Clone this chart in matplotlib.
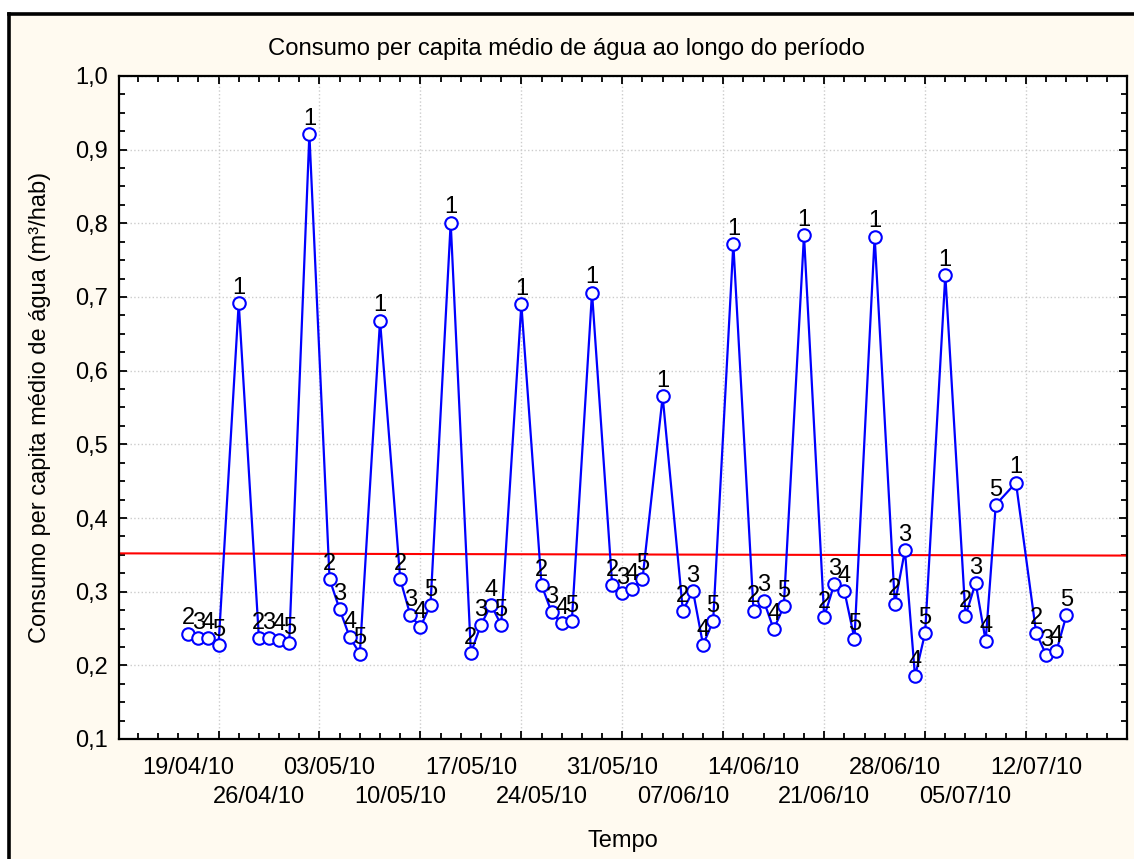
import pandas as pd
import matplotlib.pyplot as plt
import matplotlib.dates as mdates
import matplotlib.transforms as mtransforms
from matplotlib.patches import Rectangle
from matplotlib.lines import Line2D

plt.rcParams['font.family'] = ['Liberation Sans', 'DejaVu Sans']

# Data (day code 1..5 is written above each point)
dates = ['19/04/2010', '20/04/2010', '21/04/2010', '22/04/2010', '24/04/2010',
         '26/04/2010', '27/04/2010', '28/04/2010', '29/04/2010', '01/05/2010',
         '03/05/2010', '04/05/2010', '05/05/2010', '06/05/2010', '08/05/2010',
         '10/05/2010', '11/05/2010', '12/05/2010', '13/05/2010', '15/05/2010',
         '17/05/2010', '18/05/2010', '19/05/2010', '20/05/2010', '22/05/2010',
         '24/05/2010', '25/05/2010', '26/05/2010', '27/05/2010', '29/05/2010',
         '31/05/2010', '01/06/2010', '02/06/2010', '03/06/2010', '05/06/2010',
         '07/06/2010', '08/06/2010', '09/06/2010', '10/06/2010', '12/06/2010',
         '14/06/2010', '15/06/2010', '16/06/2010', '17/06/2010', '19/06/2010',
         '21/06/2010', '22/06/2010', '23/06/2010', '24/06/2010', '26/06/2010',
         '28/06/2010', '29/06/2010', '30/06/2010', '01/07/2010', '03/07/2010',
         '05/07/2010', '06/07/2010', '07/07/2010', '08/07/2010', '10/07/2010',
         '12/07/2010', '13/07/2010', '14/07/2010', '15/07/2010']
consumo = [0.243, 0.237, 0.237, 0.227, 0.692,
           0.237, 0.237, 0.235, 0.230, 0.921,
           0.317, 0.276, 0.238, 0.216, 0.668,
           0.317, 0.268, 0.252, 0.282, 0.801,
           0.217, 0.255, 0.282, 0.255, 0.690,
           0.309, 0.272, 0.257, 0.260, 0.706,
           0.309, 0.298, 0.304, 0.317, 0.565,
           0.274, 0.301, 0.228, 0.260, 0.772,
           0.274, 0.288, 0.249, 0.280, 0.784,
           0.266, 0.310, 0.301, 0.236, 0.782,
           0.283, 0.356, 0.185, 0.244, 0.730,
           0.267, 0.312, 0.233, 0.418, 0.448,
           0.244, 0.214, 0.219, 0.268]
dia = ['2', '3', '4', '5', '1'] * 12 + ['2', '3', '4', '5']

trend_start = 0.352
trend_end = 0.349

label_dates_top = ['19/04/2010', '03/05/2010', '17/05/2010', '31/05/2010',
                   '14/06/2010', '28/06/2010', '12/07/2010']
label_dates_bottom = ['26/04/2010', '10/05/2010', '24/05/2010', '07/06/2010',
                      '21/06/2010', '05/07/2010']

y_ticks = [0.1, 0.2, 0.3, 0.4, 0.5, 0.6, 0.7, 0.8, 0.9, 1.0]
y_tick_labels = ['0,1', '0,2', '0,3', '0,4', '0,5', '0,6', '0,7', '0,8', '0,9', '1,0']

x = mdates.date2num(pd.to_datetime(dates, format='%d/%m/%Y'))

fig = plt.figure(figsize=(11.34, 8.59), dpi=100)
fig.patch.set_facecolor('white')

# cream panel with thick black border on top and left
W, H = 1134.0, 859.0
fig.patches.append(Rectangle((9 / W, 0), 1 - 9 / W, 1 - 14 / H, transform=fig.transFigure,
                             facecolor='#fffaf0', edgecolor='none', zorder=-10))
fig.lines.append(Line2D([9 / W, 1], [1 - 14 / H, 1 - 14 / H], transform=fig.transFigure,
                        color='black', lw=2.6, zorder=-5))
fig.lines.append(Line2D([9 / W, 9 / W], [0, 1 - 14 / H], transform=fig.transFigure,
                        color='black', lw=2.6, zorder=-5))

ax = fig.add_axes([119 / W, 1 - 739 / H, (1127 - 119) / W, (739 - 76) / H], zorder=1)
ax.set_facecolor('white')

d0 = mdates.date2num(pd.Timestamp('2010-04-19'))
x0, x1 = d0 - 6.86, d0 + 92.94
ax.set_xlim(x0, x1)
ax.set_ylim(0.1, 1.0)

# trend line
ax.plot([x0, x1], [trend_start, trend_end], color='red', lw=1.5, zorder=2)

ax.plot(x, consumo, color='blue', lw=1.6, marker='o', markersize=9,
        markerfacecolor='white', markeredgecolor='blue', markeredgewidth=1.5, zorder=3)

for xi, yi, d in zip(x, consumo, dia):
    ax.annotate(d, (xi, yi), xytext=(0, 3), textcoords='offset points',
                ha='center', va='bottom', fontsize=17, zorder=4)

# ticks
ax.set_xticks(mdates.date2num(pd.date_range('2010-04-22', periods=9, freq='10D')))
ax.set_xticks(mdates.date2num(pd.date_range('2010-04-14', '2010-07-21', freq='2D')), minor=True)
ax.set_yticks(y_ticks)
ax.set_yticklabels(y_tick_labels)
ax.set_yticks([0.1 + 0.025 * i for i in range(37)], minor=True)
ax.tick_params(which='both', direction='in', top=True, right=True, width=1.3,
               labelbottom=False, labelsize=17, pad=8)
ax.tick_params(which='major', length=6)
ax.tick_params(which='minor', length=4)
ax.grid(True, which='major', color='#cccccc', linestyle=':', lw=1.0)
for s in ax.spines.values():
    s.set_linewidth(1.6)

trans = mtransforms.blended_transform_factory(ax.transData, fig.transFigure)
for ds in label_dates_top:
    xd = mdates.date2num(pd.to_datetime(ds, format='%d/%m/%Y'))
    ax.text(xd, 1 - 774 / H, pd.to_datetime(ds, format='%d/%m/%Y').strftime('%d/%m/%y'),
            transform=trans, ha='center', va='baseline', fontsize=17, clip_on=False)
for ds in label_dates_bottom:
    xd = mdates.date2num(pd.to_datetime(ds, format='%d/%m/%Y'))
    ax.text(xd, 1 - 803 / H, pd.to_datetime(ds, format='%d/%m/%Y').strftime('%d/%m/%y'),
            transform=trans, ha='center', va='baseline', fontsize=17, clip_on=False)

fig.text(566 / W, 1 - 55.5 / H, 'Consumo per capita médio de água ao longo do período',
         ha='center', va='baseline', fontsize=17.2)
fig.text(623 / W, 1 - 841 / H, 'Tempo', ha='center', va='center', fontsize=17)
fig.text(40 / W, 1 - 407.5 / H, 'Consumo per capita médio de água (m³/hab)',
         ha='center', va='center', rotation=90, fontsize=17)

plt.savefig('out.png', dpi=100)
